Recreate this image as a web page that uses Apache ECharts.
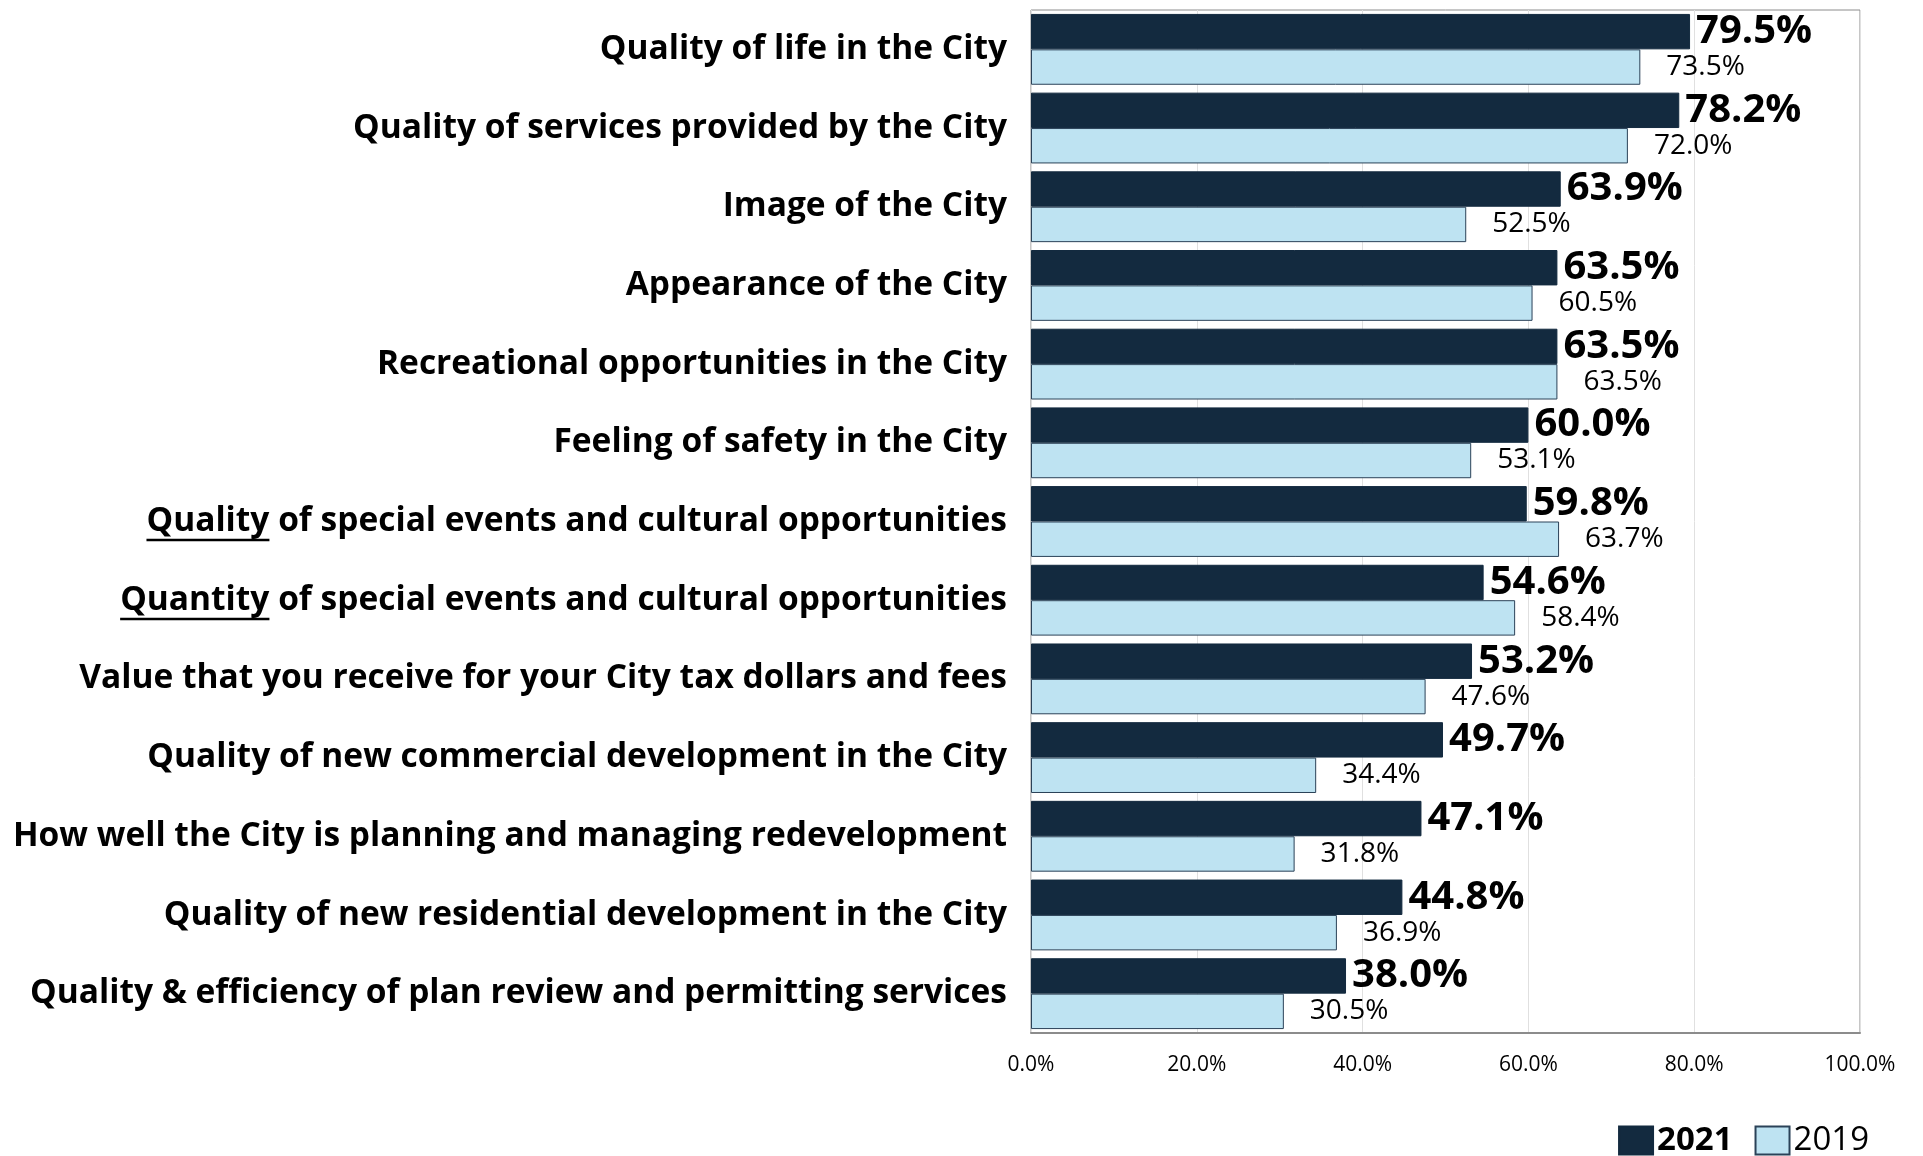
<!DOCTYPE html>
<html>
<head>
<meta charset="utf-8">
<script src="https://cdn.jsdelivr.net/npm/echarts@6/dist/echarts.min.js"></script>
<style>
    html, body {margin: 0; padding: 0; background: #fff;}
    #chart {width: 1923px; height: 1156px;}
</style>
</head>
<body>
<div id="chart"></div>
<script>
const categories = [
    'Quality of life in the City',
    'Quality of services provided by the City',
    'Image of the City',
    'Appearance of the City',
    'Recreational opportunities in the City',
    'Feeling of safety in the City',
    'Quality of special events and cultural opportunities',
    'Quantity of special events and cultural opportunities',
    'Value that you receive for your City tax dollars and fees',
    'Quality of new commercial development in the City',
    'How well the City is planning and managing redevelopment',
    'Quality of new residential development in the City',
    'Quality & efficiency of plan review and permitting services'
]
const values2021 = [79.5, 78.2, 63.9, 63.5, 63.5, 60.0, 59.8, 54.6, 53.2, 49.7, 47.1, 44.8, 38.0]
const values2019 = [73.5, 72.0, 52.5, 60.5, 63.5, 53.1, 63.7, 58.4, 47.6, 34.4, 31.8, 36.9, 30.5]
const xTicks = [0, 20, 40, 60, 80, 100]
// labels with the first word underlined
const underlined = {6: 'Quality', 7: 'Quantity'}

const FONT = 'Open Sans'
const LABEL_SIZE = 33.5
const GRID_LEFT = 1031
const LABEL_MARGIN = 24

const chart = echarts.init(document.getElementById('chart'))

const option = {
    animation: false,
    color: ['#132a3f', '#bee3f2'],
    legend: {
        right: 49,
        bottom: -6,
        icon: 'rect',
        itemWidth: 34,
        itemHeight: 28,
        itemGap: 22,
        data: ['2021', '2019'],
        formatter: name => name === '2021' ? '{b|' + name + '}' : name,
        textStyle: {
            fontFamily: FONT, fontSize: 33, color: '#000', padding: [0, 0, 0, -1],
            rich: {b: {fontFamily: FONT, fontSize: 33, fontWeight: 'bold', color: '#000'}}
        }
    },
    grid: {
        left: GRID_LEFT, right: 63, top: 10, bottom: 123,
        show: true, borderColor: '#8c8c8c', borderWidth: 1
    },
    xAxis: {
        type: 'value',
        min: xTicks[0], max: xTicks[xTicks.length - 1], interval: xTicks[1] - xTicks[0],
        axisLine: {show: true, lineStyle: {color: '#8c8c8c', width: 2}},
        axisTick: {show: false},
        splitLine: {show: true, lineStyle: {color: '#e0e0e0', width: 1}},
        axisLabel: {
            margin: 22,
            fontFamily: FONT, fontSize: 21, color: '#000',
            formatter: v => v.toFixed(1) + '%'
        }
    },
    yAxis: {
        type: 'category',
        inverse: true,
        data: categories,
        axisLine: {show: false},
        axisTick: {show: false},
        axisLabel: {
            margin: LABEL_MARGIN,
            fontFamily: FONT, fontSize: LABEL_SIZE, fontWeight: 'bold', color: '#000'
        }
    },
    series: [
        {
            name: '2021',
            type: 'bar',
            data: values2021,
            barGap: '0%',
            barCategoryGap: '10%',
            itemStyle: {color: '#132a3f', borderColor: '#132a3f', borderWidth: 1},
            label: {
                show: true, position: 'right', distance: 6,
                fontFamily: FONT, fontSize: 40, fontWeight: 'bold', color: '#000',
                formatter: p => p.value.toFixed(1) + '%'
            }
        },
        {
            name: '2019',
            type: 'bar',
            data: values2019,
            itemStyle: {color: '#bee3f2', borderColor: '#2b4258', borderWidth: 1},
            label: {
                show: true, position: 'right', distance: 26,
                fontFamily: FONT, fontSize: 28, color: '#000',
                formatter: p => p.value.toFixed(1) + '%'
            }
        }
    ]
}

chart.setOption(option)

// underline the first word of the two "Quality"/"Quantity" labels
const ctx = document.createElement('canvas').getContext('2d')
ctx.font = 'bold ' + LABEL_SIZE + 'px ' + FONT
const rightX = GRID_LEFT - LABEL_MARGIN
const lines = Object.keys(underlined).map(i => {
    const label = categories[i]
    const y = chart.convertToPixel({yAxisIndex: 0}, label)
    const x0 = rightX - ctx.measureText(label).width
    const x1 = x0 + ctx.measureText(underlined[i]).width
    const uy = Math.round(y + LABEL_SIZE * 0.55)
    return {
        type: 'line',
        shape: {x1: x0, y1: uy, x2: x1, y2: uy},
        style: {stroke: '#000', lineWidth: 2.5}
    }
})
chart.setOption({graphic: lines})
</script>
</body>
</html>
